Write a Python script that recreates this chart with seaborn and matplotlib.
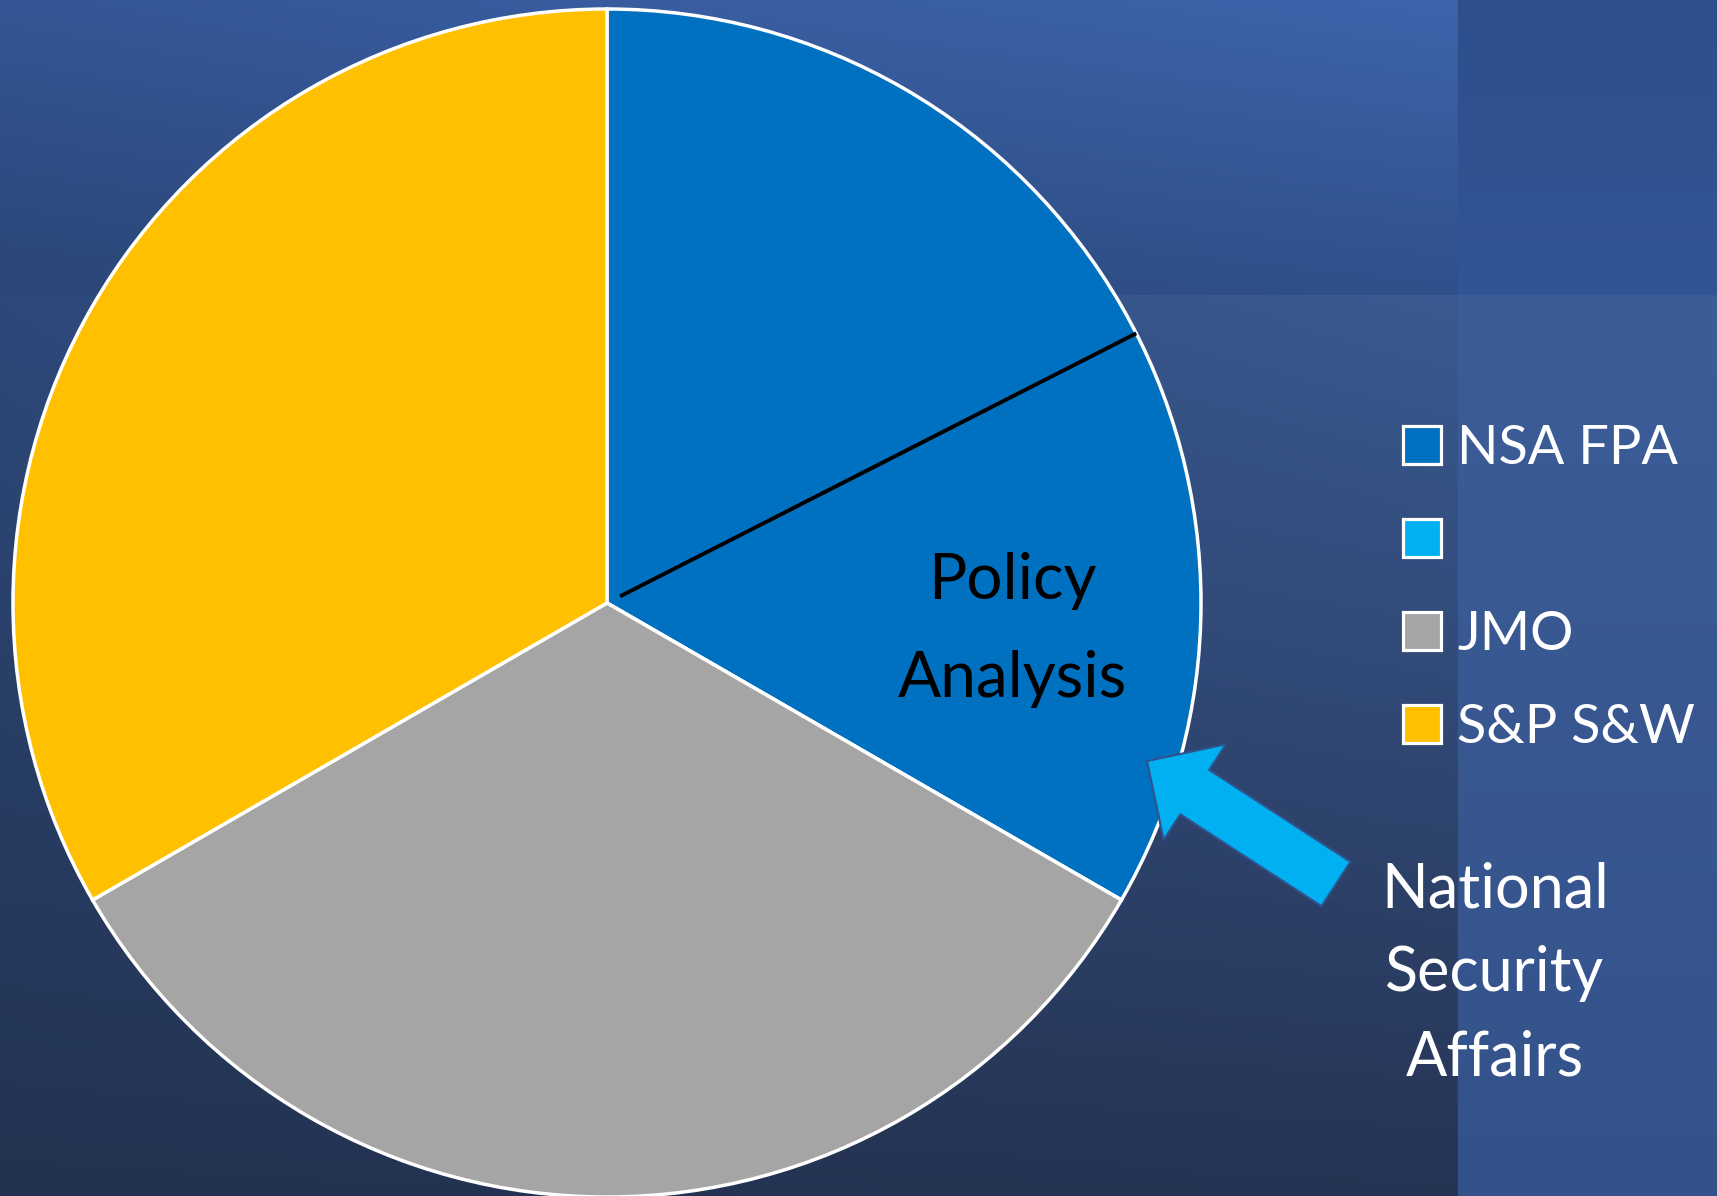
import numpy as np
import matplotlib
matplotlib.use('Agg')
import matplotlib.pyplot as plt
import seaborn as sns
from matplotlib.patches import FancyArrow

# ---- data ----
categories = ['NSA FPA', '', 'JMO', 'S&P S&W']
values = [1, 0, 1, 1]
colors = ['#0070C0', '#00B0F0', '#A5A5A5', '#FFC000']
inner_lines = ['Policy', 'Analysis']
callout_lines = ['National', 'Security', 'Affairs']
divider_angle = 27  # degrees, sub-division line inside NSA FPA slice

sns.set_theme(style='white')
plt.rcParams['font.family'] = ['Lato', 'DejaVu Sans']

W, H = 1717, 1196
fig = plt.figure(figsize=(W / 100, H / 100), dpi=100)

# ---- background panels ----
def bilinear(c00, c01, c10, c11, h, w):
    ty = np.linspace(0, 1, h)[:, None, None]
    tx = np.linspace(0, 1, w)[None, :, None]
    top = np.array(c00) * (1 - tx) + np.array(c01) * tx
    bot = np.array(c10) * (1 - tx) + np.array(c11) * tx
    return top * (1 - ty) + bot * ty

yb, xb = 295, 1457
img = np.zeros((H, W, 3))
img[:yb, :xb] = bilinear((52, 86, 150), (61, 101, 172), (43, 70, 118), (48, 80, 140), yb, xb)
img[:yb, xb:] = bilinear((46, 79, 140), (46, 79, 140), (50, 85, 150), (50, 85, 150), yb, W - xb)
img[yb:, :xb] = bilinear((45, 73, 122), (58, 90, 145), (35, 50, 80), (38, 52, 84), H - yb, xb)
img[yb:, xb:] = bilinear((60, 93, 152), (60, 93, 152), (52, 82, 138), (52, 82, 138), H - yb, W - xb)

bg = fig.add_axes([0, 0, 1, 1], zorder=0)
bg.imshow(img / 255, extent=[0, W, H, 0], aspect='auto', interpolation='bilinear')
bg.set_xlim(0, W)
bg.set_ylim(H, 0)
bg.axis('off')

# ---- pie ----
cx, cy, r = 607, 603, 594
ax = fig.add_axes([(cx - r) / W, (H - cy - r) / H, 2 * r / W, 2 * r / H], zorder=1)
wedges, _ = ax.pie(values, colors=colors, startangle=90, counterclock=False,
                   wedgeprops=dict(edgecolor='white', linewidth=2.5), radius=1)
for w in wedges:
    w.set_clip_on(False)
ax.set_xlim(-1, 1)
ax.set_ylim(-1, 1)
ax.set_aspect('equal')
ax.axis('off')

th = np.radians(divider_angle)
ax.plot([0.025 * np.cos(th), np.cos(th)], [0.025 * np.sin(th), np.sin(th)],
        color='black', lw=2.8, clip_on=False, solid_capstyle='butt')

# ---- legend ----
leg = ax.legend(wedges, categories, loc='center left',
                bbox_to_anchor=(1403 / W, 1 - 588 / H), bbox_transform=fig.transFigure,
                frameon=False, fontsize=39, handlelength=0.7, handleheight=0.7,
                handletextpad=0.3, labelspacing=0.81, borderpad=0, borderaxespad=0)
for t in leg.get_texts():
    t.set_color('white')
for p in leg.get_patches():
    p.set_edgecolor('white')
    p.set_linewidth(2.3)

# ---- overlay: text & arrow ----
ov = fig.add_axes([0, 0, 1, 1], zorder=2)
ov.set_xlim(0, W)
ov.set_ylim(H, 0)
ov.axis('off')
ov.patch.set_alpha(0)

for i, s in enumerate(inner_lines):
    ov.text(1012, 599 + 98 * i, s, color='black', fontsize=46, ha='center', va='baseline')

for i, s in enumerate(callout_lines):
    ov.text(1495, 907 + 84 * i, s, color='white', fontsize=44, ha='center', va='baseline')

arrow = FancyArrow(1336, 884, -189, -123, width=53, head_width=114, head_length=57,
                   length_includes_head=True, facecolor='#00B0F0', edgecolor='#2F528F', lw=1.5)
ov.add_patch(arrow)

fig.savefig('out.png', dpi=100)
